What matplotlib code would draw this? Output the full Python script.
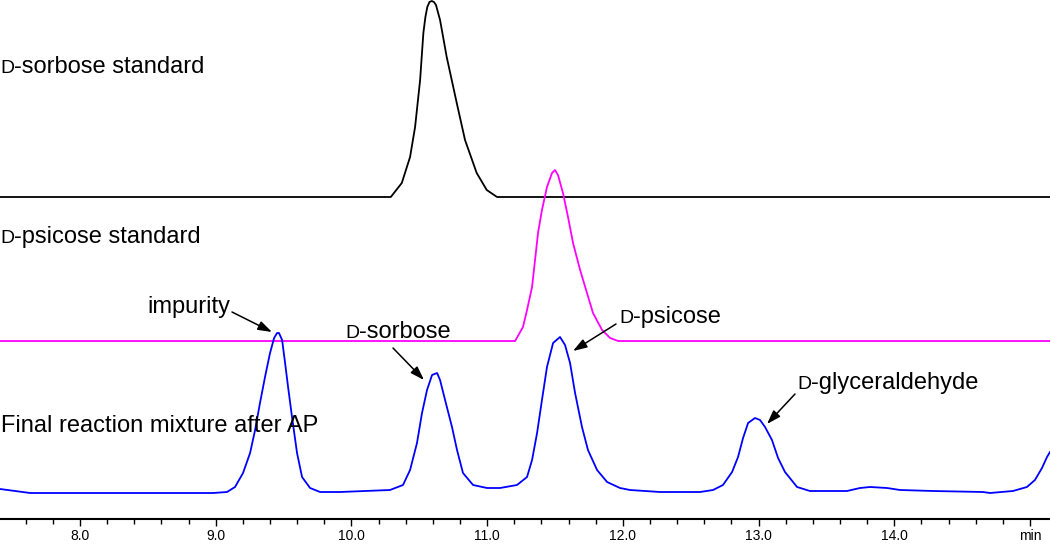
import matplotlib
matplotlib.use("Agg")
import matplotlib.pyplot as plt
from matplotlib.ticker import FixedLocator, MultipleLocator

# retention times (min) and detector signal above each trace's own baseline
sorbose_std_t = [7.410, 10.290, 10.371, 10.432, 10.469, 10.506, 10.530, 10.545, 10.559, 10.575,
                 10.592, 10.608, 10.623, 10.653, 10.702, 10.776, 10.837, 10.923, 10.997, 11.073,
                 15.148]
sorbose_std_y = [0, 0, 14, 40, 70, 117, 164, 180, 190, 195,
                 196, 195, 192, 177, 140, 94, 57, 24, 7, 0,
                 0]

psicose_std_t = [7.410, 11.206, 11.264, 11.294, 11.331, 11.353, 11.375, 11.404, 11.441,
                 11.478, 11.500, 11.522, 11.559, 11.596, 11.633, 11.685, 11.736, 11.780,
                 11.847, 11.906, 11.965, 15.148]
psicose_std_y = [0, 0, 14, 31, 54, 81, 108, 131, 154,
                 168, 171, 166, 148, 124, 98, 71, 48, 28,
                 11, 3, 0, 0]

mixture_t = [7.410, 7.632, 8.980, 9.083, 9.142, 9.201, 9.253, 9.290, 9.326, 9.363, 9.400,
             9.430, 9.452, 9.466, 9.489, 9.511, 9.533, 9.562, 9.599, 9.636, 9.695, 9.769,
             9.916, 10.284, 10.380, 10.432, 10.483, 10.520, 10.557, 10.594, 10.631, 10.653,
             10.690, 10.741, 10.778, 10.822, 10.896, 10.999, 11.095, 11.220, 11.294, 11.331,
             11.368, 11.404, 11.441, 11.486, 11.537, 11.574, 11.611, 11.648, 11.699, 11.743,
             11.810, 11.884, 11.979, 12.053, 12.274, 12.569, 12.665, 12.738, 12.805, 12.849,
             12.886, 12.923, 12.974, 13.011, 13.048, 13.099, 13.144, 13.195, 13.284, 13.379,
             13.652, 13.748, 13.822, 13.947, 14.043, 14.286, 14.654, 14.706, 14.875, 14.978,
             15.037, 15.089, 15.126, 15.148]
mixture_y = [4, 0, 0, 1, 6, 20, 40, 63, 90, 116, 140,
             155, 160, 160, 153, 130, 106, 76, 40, 16, 5, 1,
             1, 3, 8, 23, 50, 80, 103, 118, 120, 113,
             93, 66, 43, 20, 8, 5, 5, 8, 16, 33,
             60, 93, 126, 150, 156, 148, 130, 100, 66, 43,
             23, 11, 5, 3, 1, 1, 3, 8, 21, 36,
             55, 70, 75, 73, 66, 53, 35, 21, 6, 2,
             2, 5, 6, 5, 3, 2, 1, 0, 2, 6,
             13, 25, 36, 41]

# vertical offsets used to stack the three chromatograms
offsets = {"sorbose": 323, "psicose": 179, "mixture": 27}

tick_values = [8, 9, 10, 11, 12, 13, 14, 15]
tick_labels = ["8.0", "9.0", "10.0", "11.0", "12.0", "13.0", "14.0", "min"]

FONT = ["Liberation Sans", "DejaVu Sans"]
W, H = 1050, 546


def small_cap_label(fig, renderer, x, y, rest, size=17):
    # small capital D followed by the rest of the name, baseline at (x, y) in image pixels
    d = fig.axes[0].annotate("D", xy=(x, H - y), xycoords="figure pixels", fontsize=size * 0.82,
                             family=FONT, va="baseline", ha="left", annotation_clip=False)
    bb = d.get_window_extent(renderer)
    fig.axes[0].annotate(rest, xy=(bb.x1, H - y), xycoords="figure pixels", fontsize=size,
                         family=FONT, va="baseline", ha="left", annotation_clip=False)


def arrow(ax, tail, head):
    ax.annotate("", xy=(head[0], H - head[1]), xycoords="figure pixels",
                xytext=(tail[0], H - tail[1]), textcoords="figure pixels",
                arrowprops=dict(arrowstyle="-|>,head_length=0.6,head_width=0.2",
                                color="black", lw=1.1, mutation_scale=14,
                                shrinkA=0, shrinkB=0),
                annotation_clip=False)


def main():
    fig = plt.figure(figsize=(W / 100, H / 100), dpi=100)
    ax = fig.add_axes([0, 27 / H, 1, 519 / H])

    off = offsets
    ax.plot(sorbose_std_t, [v + off["sorbose"] for v in sorbose_std_y], color="black", lw=1.3, clip_on=False)
    ax.plot(psicose_std_t, [v + off["psicose"] for v in psicose_std_y], color="#ff00ff", lw=1.3, clip_on=False)
    ax.plot(mixture_t, [v + off["mixture"] for v in mixture_y], color="#0000ff", lw=1.3, clip_on=False)

    ax.set_xlim(7.41, 15.148)
    ax.set_ylim(1, 520)

    for side in ["left", "right", "top"]:
        ax.spines[side].set_visible(False)
    ax.spines["bottom"].set_linewidth(1.5)
    ax.set_yticks([])

    ax.xaxis.set_major_locator(FixedLocator(tick_values))
    ax.set_xticklabels(tick_labels, family=FONT, fontsize=10)
    ax.xaxis.set_minor_locator(MultipleLocator(0.2))
    ax.tick_params(axis="x", which="major", length=5, width=1, pad=2)
    ax.tick_params(axis="x", which="minor", length=3.5, width=1)

    fig.canvas.draw()
    renderer = fig.canvas.get_renderer()

    # trace names on the left
    small_cap_label(fig, renderer, 0, 73, "-sorbose standard")
    small_cap_label(fig, renderer, 0, 243, "-psicose standard")
    ax.annotate("Final reaction mixture after AP", xy=(1, H - 432), xycoords="figure pixels",
                fontsize=17, family=FONT, va="baseline", ha="left", annotation_clip=False)

    # peak labels with arrows
    ax.annotate("impurity", xy=(147, H - 313), xycoords="figure pixels",
                fontsize=17, family=FONT, va="baseline", ha="left", annotation_clip=False)
    arrow(ax, (232, 312), (272, 332))
    small_cap_label(fig, renderer, 345, 338, "-sorbose")
    arrow(ax, (393, 348), (424, 380))
    small_cap_label(fig, renderer, 619, 323, "-psicose")
    arrow(ax, (616, 324), (573, 351))
    small_cap_label(fig, renderer, 797, 389, "-glyceraldehyde")
    arrow(ax, (795, 394), (767, 424))

    fig.savefig("out.png", dpi=100)
    plt.close(fig)


if __name__ == "__main__":
    main()
